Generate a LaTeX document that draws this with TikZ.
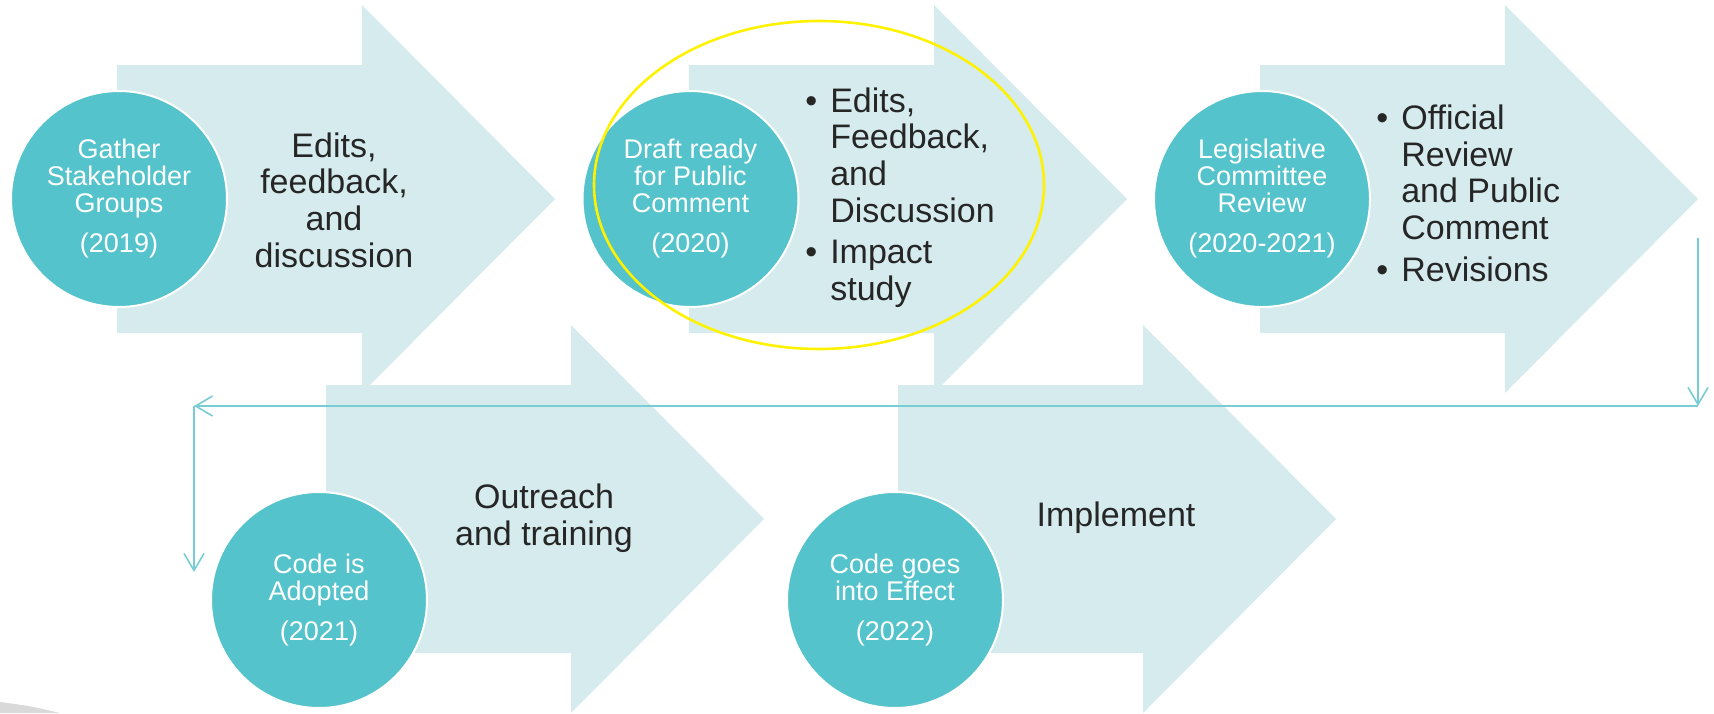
\documentclass[tikz,border=0pt]{standalone}
\usepackage{fontspec}
\setmainfont{Liberation Sans}
\usepackage{tikz}
\usetikzlibrary{shapes.geometric, arrows.meta}

\definecolor{arrowfill}{HTML}{D5EBEE}
\definecolor{stagefill}{HTML}{54C3CB}
\definecolor{linkline}{HTML}{78CDD5}

\tikzset{
    stage/.style={circle, fill=stagefill, draw=white, line width=1pt,
        minimum size=108pt, inner sep=0pt,
        text=white, align=center, font=\fontsize{13.5}{13.5}\selectfont},
    notes/.style={text=black!85, inner sep=0pt, font=\fontsize{17}{18.35}\selectfont},
    link/.style={draw=linkline, line width=0.8pt, -{Straight Barb[length=8.5pt,width=10pt]}},
    hilite/.style={ellipse, draw=yellow, line width=1.3pt,
        minimum width=225pt, minimum height=164pt},
}

\begin{document}
\begin{tikzpicture}[x=0.5pt, y=-0.5pt]
    \useasboundingbox (0,0) rectangle (1714,713);
    % big arrows
    \foreach \x/\y in {117/199, 689/199, 1260/199, 326/519, 898/519}
        \fill[arrowfill] (\x,\y-134) -- ++(245,0) -- ++(0,-60) -- (\x+438,\y)
            -- (\x+245,\y+194) -- ++(0,-60) -- (\x,\y+134) -- cycle;
    \fill[black!15] (0,702) .. controls (30,706) .. (60,713) -- (0,713) -- cycle;

    \coordinate (drop) at (1698,238);
    \coordinate (turn) at (1698,406);
    \coordinate (back) at (194,406);
    \coordinate (land) at (194,572);
    \draw[link] (drop) -- (turn);
    \draw[link] (turn) -- (back);
    \draw[link] (back) -- (land);

    \node[stage] (gather) at (119,199) {Gather\\Stakeholder\\Groups\\[6.5pt](2019)};
    \node[stage] (draft) at (690.5,199) {Draft ready\\for Public\\Comment\\[6.5pt](2020)};
    \node[stage] (review) at (1262,199) {Legislative\\Committee\\Review\\[6.5pt](2020-2021)};
    \node[stage] (adopt) at (319,600) {Code is\\Adopted\\[6.5pt](2021)};
    \node[stage] (effect) at (895,600) {Code goes\\into Effect\\[6.5pt](2022)};

    \node[notes, align=center] (edits) at (334,200) {Edits,\\feedback,\\and\\discussion};
    \node[notes, anchor=west] (draftnotes) at (805,199) {%
        \begin{tabular}{@{}l@{\hspace{6.5pt}}l@{}}
        \textbullet & Edits,\\ & Feedback,\\ & and\\ & Discussion\\[2.5pt]
        \textbullet & Impact\\ & study
        \end{tabular}};
    \node[notes, anchor=west] (reviewnotes) at (1376,198) {%
        \begin{tabular}{@{}l@{\hspace{6.5pt}}l@{}}
        \textbullet & Official\\ & Review\\ & and Public\\ & Comment\\[2.5pt]
        \textbullet & Revisions
        \end{tabular}};
    \node[notes, align=center] (outreach) at (544,518) {Outreach\\and training};
    \node[notes] (implement) at (1116,518) {Implement};

    \node[hilite] (focus) at (819,185) {};
\end{tikzpicture}
\end{document}
